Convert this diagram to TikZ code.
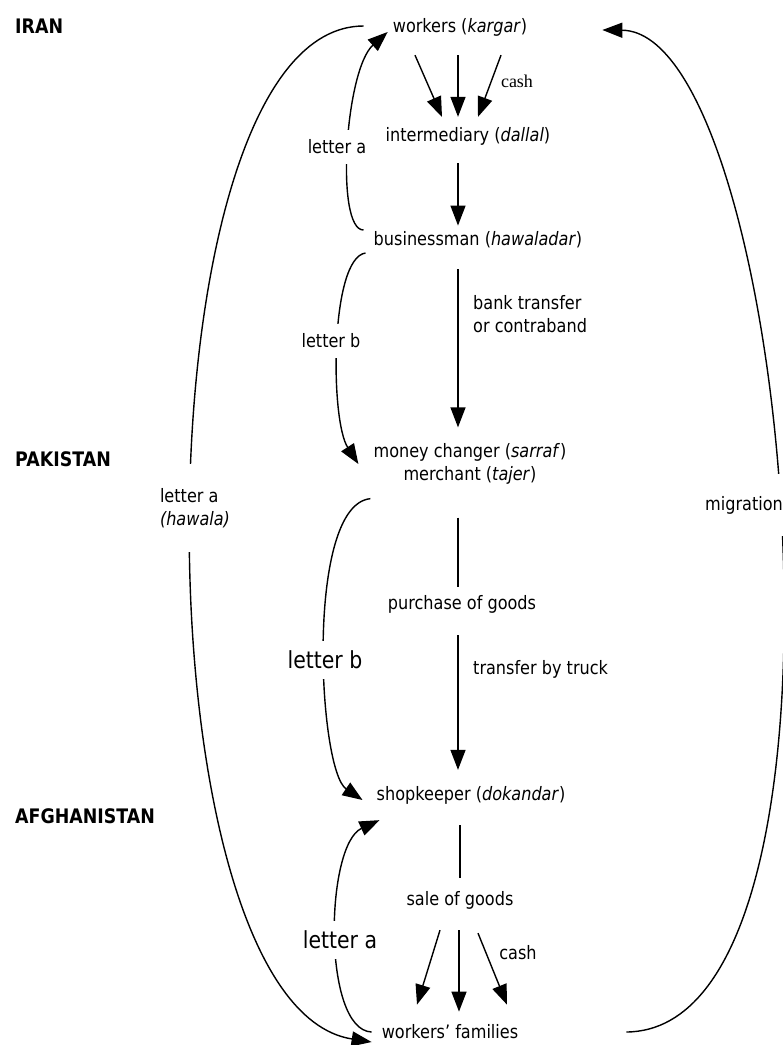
\documentclass[tikz,border=0pt]{standalone}
\usepackage{fontspec}
\setmainfont{DejaVu Sans}[FakeStretch=0.87]
\newfontfamily\cashfont{Liberation Serif}
\usetikzlibrary{arrows.meta}

\begin{document}
\begin{tikzpicture}[
        x=1pt, y=1pt,
        txt/.style={inner sep=0pt, align=center, font=\fontsize{18.5}{23}\selectfont},
        country/.style={inner sep=0pt, anchor=west, font=\fontsize{20}{24}\selectfont\bfseries},
        lettertag/.style={fill=white, inner xsep=2pt, inner ysep=10pt, font=\fontsize{18.5}{23}\selectfont},
        bigtag/.style={lettertag, font=\fontsize{23.5}{28}\selectfont},
        arrow/.style={-{Triangle[length=20pt,width=15pt]}, line width=1.4pt},
        stem/.style={line width=1.4pt}
    ]

    \path[use as bounding box, fill=white] (0,0) rectangle (783,-1045);

    % Countries
    \node[country] (iran) at (15,-26) {IRAN};
    \node[country] (pakistan) at (15,-459) {PAKISTAN};
    \node[country] (afghanistan) at (15,-816) {AFGHANISTAN};

    % Main column
    \node[txt] (workers) at (460,-27) {workers (\textit{kargar})};
    \node[txt] (inter) at (468,-136) {intermediary (\textit{dallal})};
    \node[txt] (business) at (478,-240) {businessman (\textit{hawaladar})};
    \node[txt] (money) at (470,-464) {money changer (\textit{sarraf})\\merchant (\textit{tajer})};
    \node[txt] (purchase) at (462,-604) {purchase of goods};
    \node[txt] (shop) at (471,-795) {shopkeeper (\textit{dokandar})};
    \node[txt] (sale) at (460,-900) {sale of goods};
    \node[txt] (families) at (450,-1032) {workers’ families};

    % Labels on the column
    \node[txt, font=\cashfont\fontsize{18}{20}\selectfont] (cashtop) at (517,-81) {cash};
    \node[txt, anchor=west, align=left] (bank) at (473,-314) {bank transfer\\or contraband};
    \node[txt, anchor=west] (truck) at (473,-669) {transfer by truck};
    \node[txt] (cashbottom) at (518,-953) {cash};

    % Iran
    \draw[arrow] ([xshift=-45pt,yshift=-19pt]workers.south) -- ([xshift=-26pt,yshift=10pt]inter.north);
    \draw[arrow] ([xshift=-2pt,yshift=-19pt]workers.south) -- ([xshift=-10pt,yshift=10pt]inter.north);
    \draw[arrow] ([xshift=41pt,yshift=-19pt]workers.south) -- ([xshift=10pt,yshift=10pt]inter.north);
    \draw[arrow] ([xshift=-10pt,yshift=-18pt]inter.south) -- ([xshift=-20pt,yshift=6pt]business.north);

    % Pakistan
    \draw[arrow] ([xshift=-20pt,yshift=-21pt]business.south) -- ([xshift=-12pt,yshift=16pt]money.north);
    \draw[stem] ([xshift=-12pt,yshift=-33pt]money.south) -- ([xshift=-4pt,yshift=8pt]purchase.north);
    \draw[arrow] ([xshift=-4pt,yshift=-22pt]purchase.south) -- ([xshift=-13pt,yshift=16pt]shop.north);

    % Afghanistan
    \draw[stem] ([xshift=-11pt,yshift=-21pt]shop.south) -- ([yshift=13pt]sale.north);
    \draw[arrow] ([xshift=-20pt,yshift=-21pt]sale.south) -- ([xshift=-33pt,yshift=20pt]families.north);
    \draw[arrow] ([xshift=-1pt,yshift=-21pt]sale.south) -- ([xshift=9pt,yshift=13pt]families.north);
    \draw[arrow] ([xshift=18pt,yshift=-24pt]sale.south) -- ([xshift=57pt,yshift=20pt]families.north);

    % Letters
    \draw[arrow] ([xshift=-10pt,yshift=10pt]business.west) .. controls (335,-230) and (345,-70) .. ([xshift=-5pt,yshift=-5pt]workers.west);
    \draw[arrow] ([xshift=-8pt,yshift=-13pt]business.west) .. controls (330,-258) and (330,-420) .. ([xshift=-15pt]money.west);
    \draw[arrow] ([xshift=-3pt,yshift=-14pt]money.south west) .. controls (305,-505) and (318,-770) .. ([xshift=-14pt,yshift=-5pt]shop.west);
    \draw[arrow] ([xshift=-10pt]families.west) .. controls (322,-1030) and (325,-845) .. ([xshift=3pt,yshift=-16pt]shop.south west);
    \draw[arrow] ([xshift=-29pt,yshift=1pt]workers.west) .. controls (133,-26) and (133,-1005) .. ([xshift=-10pt,yshift=-10pt]families.west);

    % Migration
    \draw[arrow] ([xshift=108pt]families.east) .. controls (880,-1030) and (790,-32) .. ([xshift=75pt,yshift=-3pt]workers.east);

    % Letter labels
    \node[lettertag] (la1) at (337,-147) {letter a};
    \node[lettertag] (lb1) at (331,-341) {letter b};
    \node[lettertag, align=left, inner ysep=24pt] (hawala) at (195,-508) {letter a\\\textit{(hawala)}};
    \node[bigtag] (lb2) at (325,-660) {letter b};
    \node[bigtag] (la2) at (340,-940) {letter a};
    \node[lettertag, inner ysep=22pt] (migr) at (744,-505) {migration};

\end{tikzpicture}
\end{document}
